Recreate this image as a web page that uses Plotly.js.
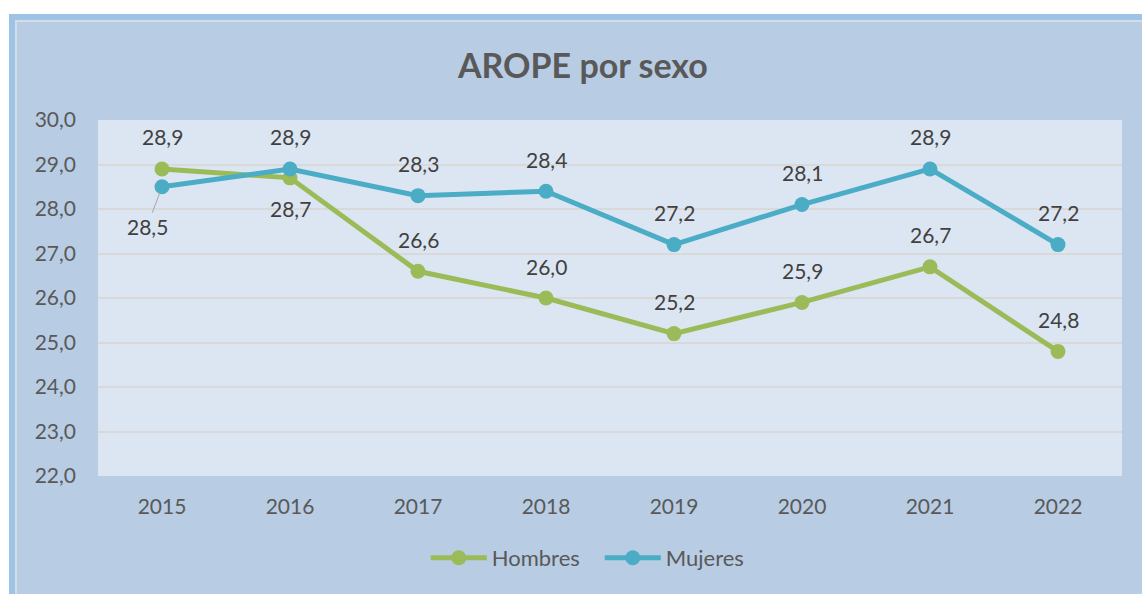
<!DOCTYPE html>
<html>
<head>
<meta charset="utf-8">
<script src="https://cdn.plot.ly/plotly-3.0.1.min.js"></script>
<style>
  html, body { margin: 0; padding: 0; background: #ffffff; width: 1142px; height: 594px; overflow: hidden; }
  #frame { position: absolute; left: 9px; top: 14px; width: 1133px; height: 580px;
           border-left: 6px solid #9DC3E6; border-top: 6px solid #9DC3E6; box-sizing: border-box; }
  #inner { position: absolute; left: 0; top: 0; right: 0; bottom: 0;
           border-left: 2px solid #D6DCE4; border-top: 2px solid #D6DCE4; box-sizing: border-box; }
  #chart { position: absolute; left: 0; top: 0; width: 1125px; height: 572px; }
</style>
</head>
<body>
<div id="frame"><div id="inner"><div id="chart"></div></div></div>
<script>
const years = ['2015', '2016', '2017', '2018', '2019', '2020', '2021', '2022'];
const hombres = [28.9, 28.7, 26.6, 26.0, 25.2, 25.9, 26.7, 24.8];
const mujeres = [28.5, 28.9, 28.3, 28.4, 27.2, 28.1, 28.9, 27.2];
const yTicks = [22, 23, 24, 25, 26, 27, 28, 29, 30];

const green = '#9BBB59';
const blue = '#4BACC6';
const FONT = 'Lato, "Open Sans", sans-serif';

const traces = [
  { x: years, y: hombres, name: 'Hombres', type: 'scatter', mode: 'lines+markers',
    line: { color: green, width: 5 }, marker: { color: green, size: 15 }, cliponaxis: false },
  { x: years, y: mujeres, name: 'Mujeres', type: 'scatter', mode: 'lines+markers',
    line: { color: blue, width: 5 }, marker: { color: blue, size: 15 }, cliponaxis: false }
];

function fmt(v) { return v.toFixed(1).replace('.', ','); }

const annotations = [];
const labelFont = { family: FONT, size: 21, color: '#404040' };
hombres.forEach((v, i) => {
  const below = (i === 1);
  annotations.push({ xref: 'x', yref: 'y', x: i, y: v, text: fmt(v), showarrow: false,
    yshift: below ? -31 : 32, font: labelFont });
});
mujeres.forEach((v, i) => {
  if (i === 0) {
    annotations.push({ xref: 'x', yref: 'y', x: i, y: v, text: fmt(v), showarrow: true,
      arrowhead: 0, arrowwidth: 1, arrowcolor: '#A6A6A6', standoff: 6,
      ax: -15, ay: 40, font: labelFont });
  } else {
    annotations.push({ xref: 'x', yref: 'y', x: i, y: v, text: fmt(v), showarrow: false,
      yshift: 32, font: labelFont });
  }
});

const layout = {
  width: 1125, height: 572,
  margin: { l: 81, r: 20, t: 98, b: 118 },
  paper_bgcolor: '#B8CCE4',
  plot_bgcolor: '#DCE6F2',
  separators: ',.',
  font: { family: FONT, size: 20, color: '#595959' },
  title: { text: '<b>AROPE por sexo</b>', font: { family: FONT, size: 34, color: '#595959' },
           x: 0.503, xref: 'container', y: 0.923, yref: 'container', yanchor: 'middle' },
  xaxis: { type: 'category', range: [-0.5, 7.5], showgrid: false, zeroline: false, showline: false,
           ticks: '', tickfont: { family: FONT, size: 21, color: '#595959' }, ticklabelstandoff: 16, fixedrange: true },
  yaxis: { range: [22, 30], tickvals: yTicks, tickformat: '.1f', showgrid: true,
           gridcolor: '#D9D9D9', gridwidth: 1.5, zeroline: false, showline: false, ticks: '',
           tickfont: { family: FONT, size: 21, color: '#595959' }, ticklabelstandoff: 21, fixedrange: true },
  showlegend: true,
  legend: { orientation: 'h', x: 0.490, xanchor: 'center', y: -0.23, yanchor: 'middle',
            bgcolor: 'rgba(0,0,0,0)', font: { family: FONT, size: 22, color: '#595959' },
            itemwidth: 56, entrywidth: 103, entrywidthmode: 'pixels', traceorder: 'normal' },
  annotations: annotations,
  hovermode: false
};

Plotly.newPlot('chart', traces, layout, { displayModeBar: false });
</script>
</body>
</html>
